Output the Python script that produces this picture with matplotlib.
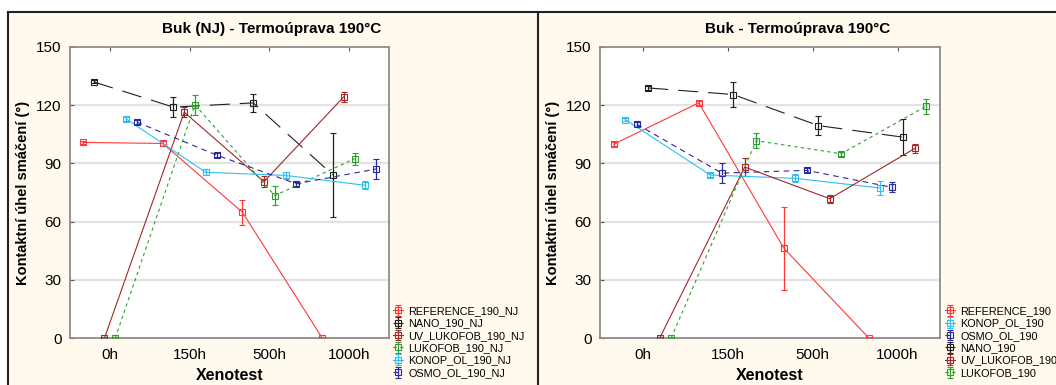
import numpy as np
import matplotlib.pyplot as plt
from matplotlib.lines import Line2D
from matplotlib.patches import Rectangle

plt.rcParams['font.family'] = ['Liberation Sans', 'DejaVu Sans']

categories = ['0h', '150h', '500h', '1000h']

## Buk (NJ)
ref_nj = [100.8, 100.3, 64.8, 0]
ref_nj_err = [1.0, 1.5, 6.5, 0.5]
nano_nj = [132.0, 119.0, 121.2, 84.0]
nano_nj_err = [0.8, 5.3, 4.5, 21.5]
uv_nj = [0, 116.4, 80.6, 124.3]
uv_nj_err = [0.5, 2.5, 3.0, 2.5]
luk_nj = [0, 120.2, 73.4, 92.4]
luk_nj_err = [0.5, 5.0, 5.0, 3.0]
konop_nj = [113.0, 85.4, 83.8, 78.7]
konop_nj_err = [1.0, 1.5, 2.0, 2.0]
osmo_nj = [111.3, 94.3, 79.5, 87.1]
osmo_nj_err = [1.0, 1.0, 1.0, 5.0]

## Buk
ref = [99.9, 121.2, 46.3, 0]
ref_err = [1.0, 1.0, 21.3, 0.5]
konop = [112.6, 84.0, 82.3, 77.3]
konop_err = [1.0, 1.0, 2.0, 3.8]
osmo = [110.2, 85.0, 86.4, 77.7]
osmo_err = [1.0, 5.3, 1.0, 2.5]
nano = [128.9, 125.5, 109.5, 103.5]
nano_err = [1.0, 6.6, 4.7, 9.3]
uv = [0, 88.1, 71.8, 97.7]
uv_err = [0.5, 4.5, 2.0, 2.4]
luk = [0, 101.7, 95.0, 119.5]
luk_err = [0.5, 4.0, 1.0, 3.8]

styles = {
    'REFERENCE': ('#ff3838', '-'),
    'NANO': ('#202020', (0, (18, 9))),
    'UV_LUKOFOB': ('#a02828', '-'),
    'LUKOFOB': ('#2fa02f', (0, (3, 3))),
    'KONOP_OL': ('#2ec0f0', '-'),
    'OSMO_OL': ('#2a2aa0', (0, (5, 4))),
}

left_series = [
    ('REFERENCE', 'REFERENCE_190_NJ', ref_nj, ref_nj_err),
    ('NANO', 'NANO_190_NJ', nano_nj, nano_nj_err),
    ('UV_LUKOFOB', 'UV_LUKOFOB_190_NJ', uv_nj, uv_nj_err),
    ('LUKOFOB', 'LUKOFOB_190_NJ', luk_nj, luk_nj_err),
    ('KONOP_OL', 'KONOP_OL_190_NJ', konop_nj, konop_nj_err),
    ('OSMO_OL', 'OSMO_OL_190_NJ', osmo_nj, osmo_nj_err),
]
right_series = [
    ('REFERENCE', 'REFERENCE_190', ref, ref_err),
    ('KONOP_OL', 'KONOP_OL_190', konop, konop_err),
    ('OSMO_OL', 'OSMO_OL_190', osmo, osmo_err),
    ('NANO', 'NANO_190', nano, nano_err),
    ('UV_LUKOFOB', 'UV_LUKOFOB_190', uv, uv_err),
    ('LUKOFOB', 'LUKOFOB_190', luk, luk_err),
]

W, H = 1056, 385
fig = plt.figure(figsize=(W / 100, H / 100), dpi=100)
fig.patch.set_facecolor('white')

# panel background and frame
fig.add_artist(Rectangle((8 / W, 0), 1 - 8 / W, 1 - 12 / H, transform=fig.transFigure,
                         facecolor='#fff9ee', edgecolor='none', zorder=-10))
fig.add_artist(Line2D([8 / W, 1], [1 - 12 / H] * 2, color='#222222', lw=1.5))
fig.add_artist(Line2D([8 / W] * 2, [0, 1 - 12 / H], color='#222222', lw=1.5))
fig.add_artist(Line2D([537.5 / W] * 2, [0, 1 - 12 / H], color='#222222', lw=1.5))


def draw_panel(x0, x1, series, title, panel_c, leg_x):
    ax = fig.add_axes([x0 / W, (H - 338) / H, (x1 - x0) / W, 291 / H])
    ax.set_facecolor('white')
    xs = np.arange(len(categories))
    for i, (key, label, vals, err) in enumerate(series):
        col, ls = styles[key]
        off = (i - 2.5) * 0.135
        ax.errorbar(xs + off, vals, yerr=err, color=col, ls=ls, lw=0.8,
                    marker='s', ms=4.8, mfc='none', mec=col, mew=0.8,
                    elinewidth=0.9, capsize=2, capthick=0.8, label=label, zorder=3)
    ax.set_xlim(-0.5, 3.5)
    ax.set_ylim(0, 150)
    ax.set_yticks([0, 30, 60, 90, 120, 150])
    ax.set_xticks(xs)
    ax.set_xticklabels(categories)
    for g in [30, 60, 90, 120]:
        ax.axhline(g, color='#e3e3e3', lw=1.6, zorder=0)
    for s in ax.spines.values():
        s.set_color('#8c8c8c')
        s.set_linewidth(1.3)
    ax.tick_params(axis='y', direction='in', length=3, color='#555555',
                   labelsize=11, pad=6)
    ax.tick_params(axis='x', direction='in', length=3, color='#555555',
                   labelsize=11, pad=7, bottom=False, top=True)
    fig.text(panel_c / W, 1 - 29 / H, title, ha='center', va='center',
             fontsize=11, fontweight='bold')
    fig.text((x0 - 47) / W, 1 - 192.5 / H, 'Kontaktní úhel smáčení (°)',
             rotation=90, ha='center', va='center', fontsize=10.5, fontweight='bold')
    fig.text((x0 + x1) / 2 / W, 1 - 376 / H, 'Xenotest', ha='center', va='center',
             fontsize=11.5, fontweight='bold')
    fig.legend(*ax.get_legend_handles_labels(), loc='upper left',
               bbox_to_anchor=(leg_x / W, 1 - 306 / H), frameon=False,
               fontsize=7.8, handlelength=0.9, handletextpad=0.5,
               labelspacing=0.22, borderpad=0, borderaxespad=0)
    return ax


draw_panel(70, 389, left_series, 'Buk (NJ) - Termoúprava 190°C', 272, 393)
draw_panel(600, 940, right_series, 'Buk - Termoúprava 190°C', 798, 945)

fig.savefig('out.png', dpi=100)
